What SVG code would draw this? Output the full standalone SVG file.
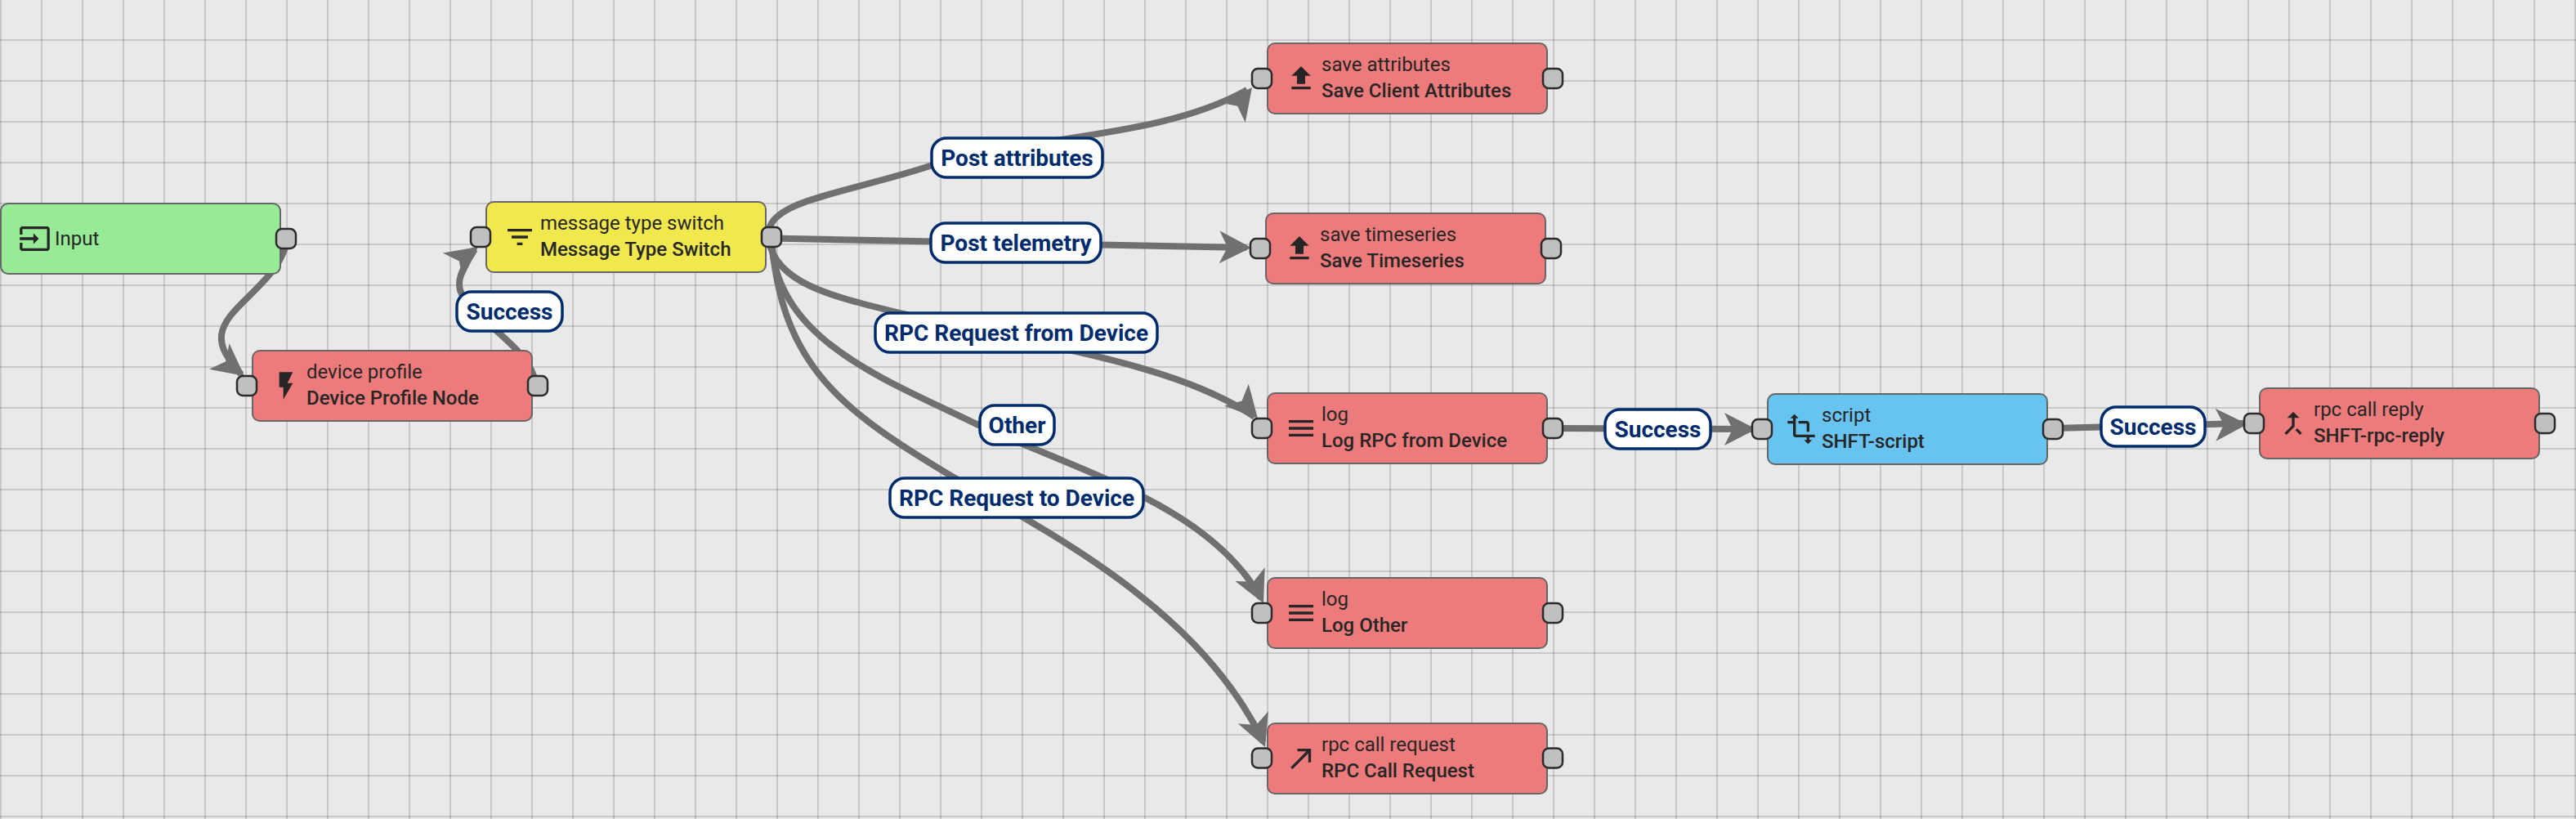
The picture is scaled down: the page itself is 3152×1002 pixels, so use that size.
<svg xmlns="http://www.w3.org/2000/svg" width="3152" height="1002" viewBox="0 0 3152 1002">
<style>
text{font-family:Roboto,"Liberation Sans",sans-serif}
.bg{fill:#e9e9e9}
.grid{stroke:#000;stroke-opacity:.14;stroke-width:2;fill:none}
.n{stroke:#666;stroke-width:2}
.red{fill:#ee7b7b}.green{fill:#97eb97}.yellow{fill:#f1e84d}.blue{fill:#67c3ef}
.p{fill:#c0c0c0;stroke:#2b2b2b;stroke-width:2.5}
.t1{font-size:24px;fill:#262626}
.t2{font-size:24px;font-weight:500;fill:#262626}
.i{fill:#262626}
.c{fill:none;stroke:#707070;stroke-width:8}
.a{fill:#707070}
.lb{fill:#fff;stroke:#002c6e;stroke-width:3.500}
.lt{font-size:28px;font-weight:700;fill:#002c6e;text-anchor:middle}
</style>
<defs>
<path id="arrow" class="a" d="M0,0L-39,-20L-29,0L-39,20Z"/>
<path id="g-input" d="M21 3.01H3c-1.1 0-2 .9-2 2V9h2V4.99h18v14.03H3V15H1v4.01c0 1.1.9 1.98 2 1.98h18c1.1 0 2-.88 2-1.98v-14c0-1.11-.9-2-2-2zM11 16l4-4-4-4v3H1v2h10v3z"/>
<path id="g-filter" d="M10 18h4v-2h-4v2zM3 6v2h18V6H3zm3 7h12v-2H6v2z"/>
<path id="g-flash" d="M7 2v11h3v9l7-12h-4l4-8z"/>
<path id="g-upload" d="M9 16h6v-6h4l-7-7-7 7h4zm-4 2h14v2H5z"/>
<path id="g-menu" d="M3 18h18v-2H3v2zm0-5h18v-2H3v2zm0-7v2h18V6H3z"/>
<path id="g-made" d="M9 5v2h6.59L4 18.59 5.41 20 17 8.41V15h2V5z"/>
<path id="g-transform" d="M22 18v-2H8V4h2L7 1 4 4h2v2H2v2h4v8c0 1.1.9 2 2 2h8v2h-2l3 3 3-3h-2v-2h4zM10 8h6v6h2V8c0-1.1-.9-2-2-2h-6v2z"/>
<path id="g-merge" d="M17 20.41L18.41 19 15 15.59 13.59 17 17 20.41zM7.5 8H11v5.59L5.59 19 7 20.41l6-6V8h3.5L12 3.5 7.5 8z"/>
</defs>
<rect class="bg" width="3152" height="1002"/>
<path class="grid" d="M1,0V1002M51,0V1002M101,0V1002M151,0V1002M201,0V1002M251,0V1002M301,0V1002M351,0V1002M401,0V1002M451,0V1002M501,0V1002M551,0V1002M601,0V1002M651,0V1002M701,0V1002M751,0V1002M801,0V1002M851,0V1002M901,0V1002M951,0V1002M1001,0V1002M1051,0V1002M1101,0V1002M1151,0V1002M1201,0V1002M1251,0V1002M1301,0V1002M1351,0V1002M1401,0V1002M1451,0V1002M1501,0V1002M1551,0V1002M1601,0V1002M1651,0V1002M1701,0V1002M1751,0V1002M1801,0V1002M1851,0V1002M1901,0V1002M1951,0V1002M2001,0V1002M2051,0V1002M2101,0V1002M2151,0V1002M2201,0V1002M2251,0V1002M2301,0V1002M2351,0V1002M2401,0V1002M2451,0V1002M2501,0V1002M2551,0V1002M2601,0V1002M2651,0V1002M2701,0V1002M2751,0V1002M2801,0V1002M2851,0V1002M2901,0V1002M2951,0V1002M3001,0V1002M3051,0V1002M3101,0V1002M3151,0V1002"/>
<path class="grid" d="M0,49H3152M0,99H3152M0,149H3152M0,199H3152M0,249H3152M0,299H3152M0,349H3152M0,399H3152M0,449H3152M0,499H3152M0,549H3152M0,599H3152M0,649H3152M0,699H3152M0,749H3152M0,799H3152M0,849H3152M0,899H3152M0,949H3152M0,999H3152"/>
<g id="connectors">
<path class="c" d="M350,300C335,350 275,375 271,410C269,430 285,445 295,458"/>
<use href="#arrow" transform="translate(299,460) rotate(38)"/>
<path class="c" d="M656,470C648,425 590,400 565,360C557,345 565,330 581,305"/>
<use href="#arrow" transform="translate(585,302) rotate(-37)"/>
<path class="c" d="M941,282C945,245 1040,235 1138,203C1260,165 1420,170 1526,110"/>
<use href="#arrow" transform="translate(1532,107) rotate(-52)"/>
<path class="c" d="M944,291.500L1525,303"/>
<use href="#arrow" transform="translate(1531,303) rotate(1)"/>
<path class="c" d="M941,295C950,350 1030,365 1105,384C1280,425 1440,445 1535,510"/>
<use href="#arrow" transform="translate(1539,512) rotate(48)"/>
<path class="c" d="M944,290C945,415 1085,465 1193,518C1330,580 1480,620 1543,732"/>
<use href="#arrow" transform="translate(1546,738) rotate(65)"/>
<path class="c" d="M944,290C955,450 1035,505 1165,583C1300,660 1470,750 1546,908"/>
<use href="#arrow" transform="translate(1548,914) rotate(68)"/>
<path class="c" d="M1900,524L2145,525"/>
<use href="#arrow" transform="translate(2149,525)"/>
<path class="c" d="M2512,524L2745,518"/>
<use href="#arrow" transform="translate(2750,519) rotate(-1)"/>
</g>
<g id="node-input">
<rect class="n green" x="1" y="249" width="342" height="86" rx="9"/>
<rect class="p" x="338" y="280" width="24" height="24" rx="7"/>
<use class="i" href="#g-input" transform="translate(22.500,272) scale(1.667)"/>
<text class="t1" x="67" y="300">Input</text>
</g>
<g id="node-device-profile">
<rect class="n red" x="309" y="429" width="342" height="86" rx="9"/>
<rect class="p" x="290" y="460" width="24" height="24" rx="7"/>
<rect class="p" x="646" y="460" width="24" height="24" rx="7"/>
<use class="i" href="#g-flash" transform="translate(330,452) scale(1.667)"/>
<text class="t1" x="375" y="463">device profile</text>
<text class="t2" x="375" y="495">Device Profile Node</text>
</g>
<g id="node-switch">
<rect class="n yellow" x="595" y="247" width="342" height="86" rx="9"/>
<rect class="p" x="576" y="278" width="24" height="24" rx="7"/>
<rect class="p" x="932" y="278" width="24" height="24" rx="7"/>
<use class="i" href="#g-filter" transform="translate(616,270) scale(1.667)"/>
<text class="t1" x="661" y="281">message type switch</text>
<text class="t2" x="661" y="313">Message Type Switch</text>
</g>
<g id="node-save-attributes">
<rect class="n red" x="1551" y="53" width="342" height="86" rx="9"/>
<rect class="p" x="1532" y="84" width="24" height="24" rx="7"/>
<rect class="p" x="1888" y="84" width="24" height="24" rx="7"/>
<use class="i" href="#g-upload" transform="translate(1572,76) scale(1.667)"/>
<text class="t1" x="1617" y="87">save attributes</text>
<text class="t2" x="1617" y="119">Save Client Attributes</text>
</g>
<g id="node-save-timeseries">
<rect class="n red" x="1549" y="261" width="342" height="86" rx="9"/>
<rect class="p" x="1530" y="292" width="24" height="24" rx="7"/>
<rect class="p" x="1886" y="292" width="24" height="24" rx="7"/>
<use class="i" href="#g-upload" transform="translate(1570,284) scale(1.667)"/>
<text class="t1" x="1615" y="295">save timeseries</text>
<text class="t2" x="1615" y="327">Save Timeseries</text>
</g>
<g id="node-log-rpc">
<rect class="n red" x="1551" y="481" width="342" height="86" rx="9"/>
<rect class="p" x="1532" y="512" width="24" height="24" rx="7"/>
<rect class="p" x="1888" y="512" width="24" height="24" rx="7"/>
<use class="i" href="#g-menu" transform="translate(1572,504) scale(1.667)"/>
<text class="t1" x="1617" y="515">log</text>
<text class="t2" x="1617" y="547">Log RPC from Device</text>
</g>
<g id="node-log-other">
<rect class="n red" x="1551" y="707" width="342" height="86" rx="9"/>
<rect class="p" x="1532" y="738" width="24" height="24" rx="7"/>
<rect class="p" x="1888" y="738" width="24" height="24" rx="7"/>
<use class="i" href="#g-menu" transform="translate(1572,730) scale(1.667)"/>
<text class="t1" x="1617" y="741">log</text>
<text class="t2" x="1617" y="773">Log Other</text>
</g>
<g id="node-rpc-request">
<rect class="n red" x="1551" y="885" width="342" height="86" rx="9"/>
<rect class="p" x="1532" y="915.500" width="24" height="24" rx="7"/>
<rect class="p" x="1888" y="915.500" width="24" height="24" rx="7"/>
<use class="i" href="#g-made" transform="translate(1572.500,907.700) scale(1.667)"/>
<text class="t1" x="1617" y="919">rpc call request</text>
<text class="t2" x="1617" y="951">RPC Call Request</text>
</g>
<g id="node-script">
<rect class="n blue" x="2163" y="482" width="342" height="86" rx="9"/>
<rect class="p" x="2144" y="513" width="24" height="24" rx="7"/>
<rect class="p" x="2500" y="513" width="24" height="24" rx="7"/>
<use class="i" href="#g-transform" transform="translate(2184,505) scale(1.667)"/>
<text class="t1" x="2229" y="516">script</text>
<text class="t2" x="2229" y="548">SHFT-script</text>
</g>
<g id="node-rpc-reply">
<rect class="n red" x="2765" y="475" width="342" height="86" rx="9"/>
<rect class="p" x="2746" y="506" width="24" height="24" rx="7"/>
<rect class="p" x="3102" y="506" width="24" height="24" rx="7"/>
<use class="i" href="#g-merge" transform="translate(2786,498) scale(1.667)"/>
<text class="t1" x="2831" y="509">rpc call reply</text>
<text class="t2" x="2831" y="541">SHFT-rpc-reply</text>
</g>
<g id="labels">
<rect class="lb" x="559" y="357" width="129" height="48" rx="18"/><text class="lt" x="623.500" y="391">Success</text>
<rect class="lb" x="1140" y="169" width="209" height="48" rx="18"/><text class="lt" x="1244.500" y="203">Post attributes</text>
<rect class="lb" x="1139" y="273" width="208" height="48" rx="18"/><text class="lt" x="1243" y="307">Post telemetry</text>
<rect class="lb" x="1071" y="383" width="345" height="48" rx="18"/><text class="lt" x="1243.500" y="417">RPC Request from Device</text>
<rect class="lb" x="1199" y="496" width="91" height="48" rx="18"/><text class="lt" x="1244.500" y="530">Other</text>
<rect class="lb" x="1089" y="585" width="310" height="48" rx="18"/><text class="lt" x="1244" y="619">RPC Request to Device</text>
<rect class="lb" x="1964" y="501" width="129" height="48" rx="18"/><text class="lt" x="2028.500" y="535">Success</text>
<rect class="lb" x="2571" y="498" width="127" height="48" rx="18"/><text class="lt" x="2634.500" y="532">Success</text>
</g>
</svg>
